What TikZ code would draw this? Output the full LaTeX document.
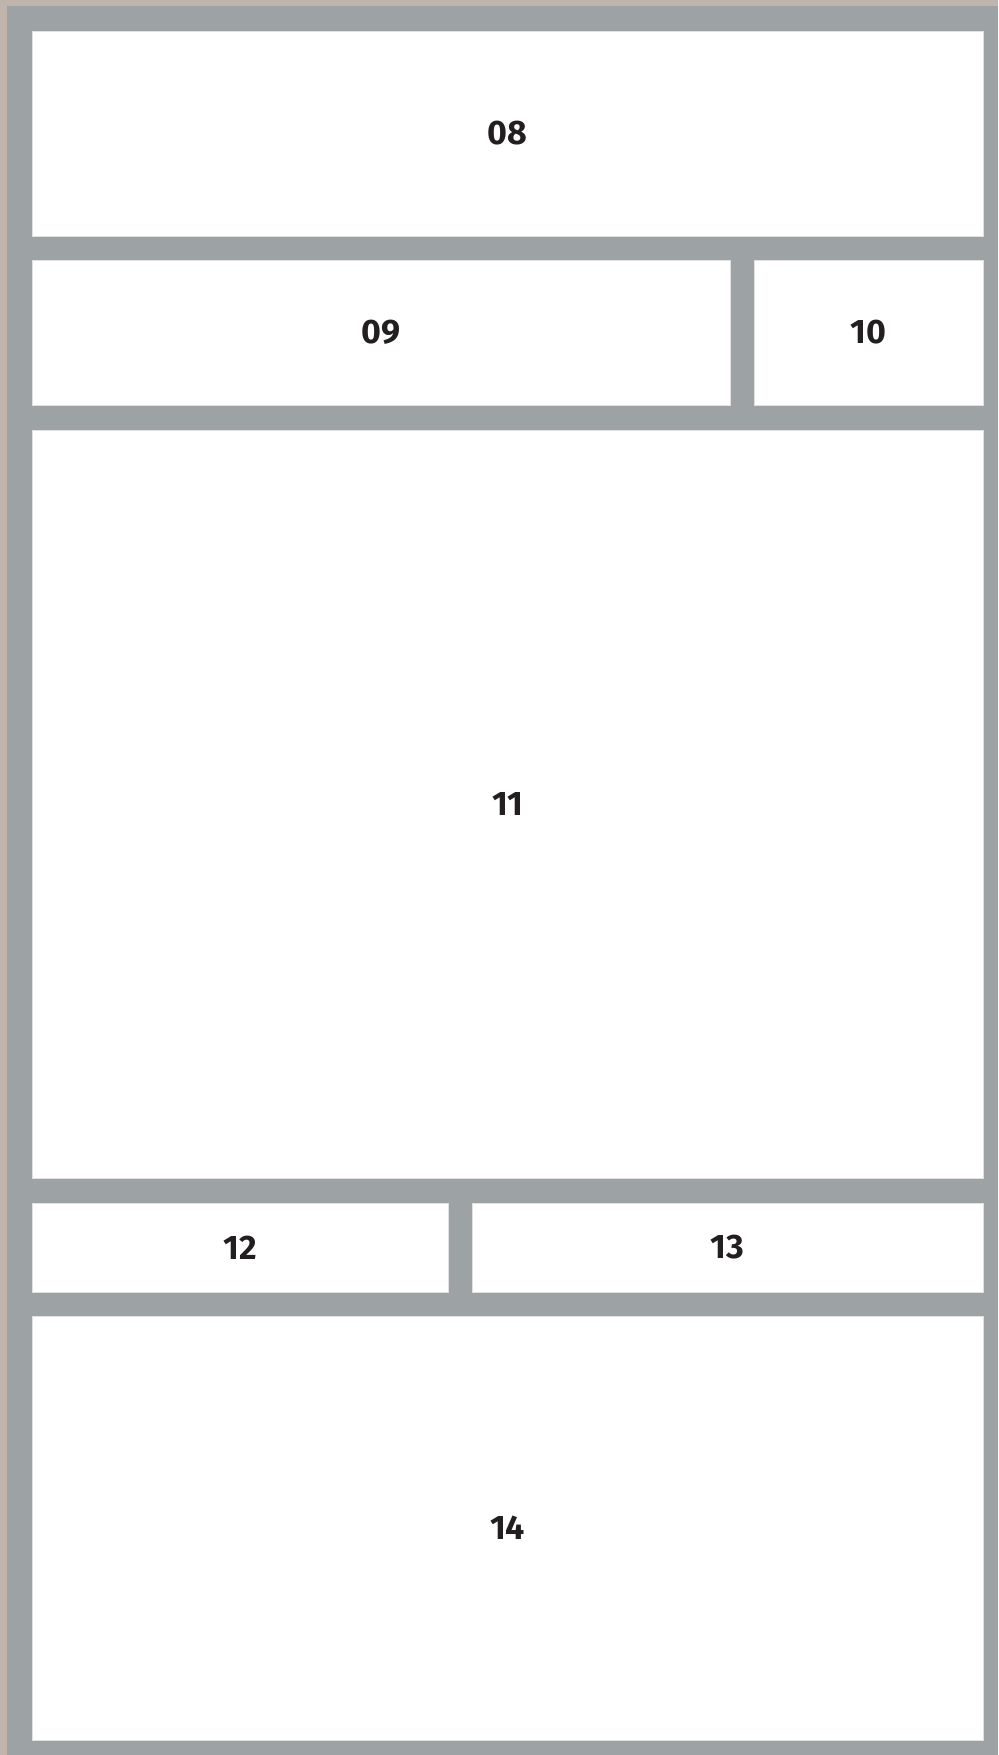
\documentclass[tikz,border=0pt]{standalone}
\usepackage{fontspec}
\setmainfont{Fira Sans}
\usetikzlibrary{positioning}
\definecolor{frameGray}{HTML}{9DA3A5}
\definecolor{paperTan}{HTML}{C0B5AD}
\definecolor{labelInk}{HTML}{231F20}
\tikzset{
    panel/.style={
        fill=white,
        draw=white!88!black,
        line width=0.6pt,
        inner sep=0pt,
        text=labelInk,
        font=\fontsize{34}{38}\selectfont\bfseries
    }
}

\begin{document}
\begin{tikzpicture}[x=1pt,y=-1pt]
\useasboundingbox[fill=paperTan] (0,0) rectangle (998,1755);
\fill[frameGray] (7,6) rectangle (998,1755);
% header row
\node[panel, minimum width=951, minimum height=205] (p08) at (507.5,133.5) {08};
% second row
\node[panel, minimum width=698, minimum height=145] (p09) at (381,332.5) {09};
\node[panel, minimum width=229, minimum height=145] (p10) at (868.5,332.5) {10};
% main area
\node[panel, minimum width=951, minimum height=748] (p11) at (507.5,804) {11};
% split row
\node[panel, minimum width=416, minimum height=89] (p12) at (240,1247.5) {12};
\node[panel, minimum width=511, minimum height=89] (p13) at (727.5,1247.5) {13};
% footer
\node[panel, minimum width=951, minimum height=424] (p14) at (507.5,1528) {14};
\end{tikzpicture}
\end{document}
